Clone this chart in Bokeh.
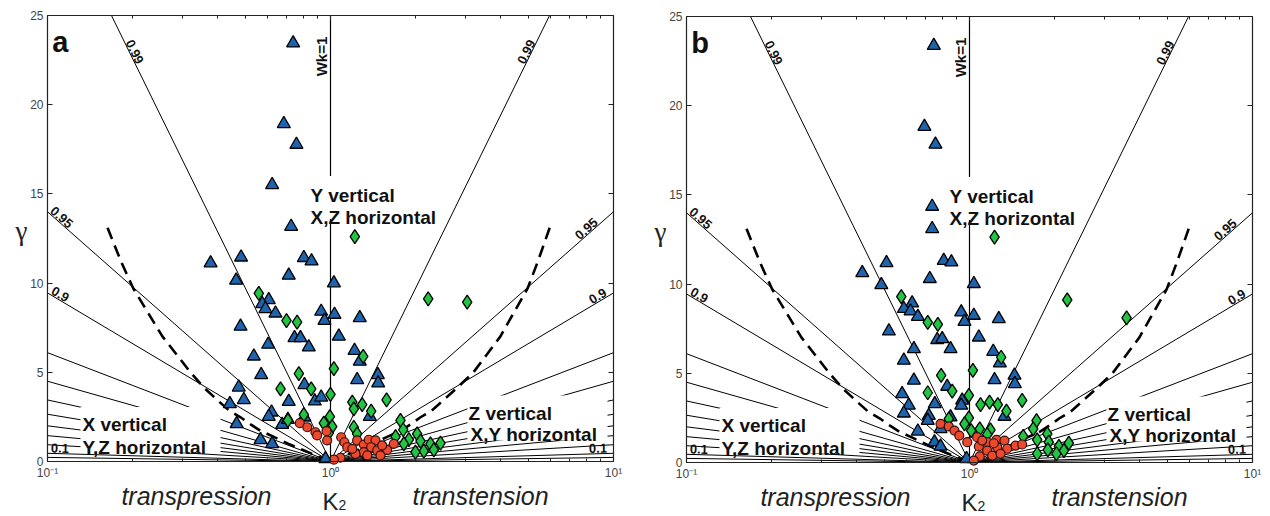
import math
from bokeh.plotting import figure
from bokeh.layouts import row
from bokeh.models import Range1d, FixedTicker, LogAxis, LinearAxis
from bokeh.core.properties import value
from bokeh.embed import file_html
from bokeh.resources import INLINE

# ---------------- data ----------------
# kinematic vorticity (Wk) guide lines: gamma where each line meets the frame edge (K2 = 0.1 / 10)
wk_values = [0.05, 0.1, 0.2, 0.3, 0.4, 0.5, 0.6, 0.7, 0.8, 0.9, 0.95, 0.99]
edge_gamma_left = [0.23, 0.46, 0.94, 1.45, 2.0, 2.65, 3.45, 4.5, 6.1, 9.45, 14.0, 32.3]
edge_gamma_right = [0.23, 0.46, 0.94, 1.45, 2.0, 2.65, 3.45, 4.5, 6.1, 9.45, 14.0, 32.3]

# dashed boundary curves
dash_left_k = [0.163, 0.182, 0.201, 0.255, 0.320, 0.359, 0.398, 0.438, 0.481, 0.522, 0.566, 0.631, 0.708, 0.807, 0.912, 1.0]
dash_left_g = [13.1, 11.2, 9.7, 7.0, 5.0, 4.1, 3.45, 2.86, 2.48, 2.08, 1.72, 1.38, 1.0, 0.62, 0.26, 0.0]
dash_right_k = [5.95, 5.4, 4.97, 3.98, 3.2, 2.79, 2.51, 2.28, 2.08, 1.92, 1.77, 1.585, 1.41, 1.24, 1.096, 1.0]
dash_right_g = [13.1, 11.2, 9.7, 7.0, 5.0, 4.1, 3.45, 2.86, 2.48, 2.08, 1.72, 1.38, 1.0, 0.62, 0.26, 0.0]

# panel a
a_tri_k = [0.738, 0.684, 0.758, 0.622, 0.726, 0.377, 0.483, 0.805, 0.857, 0.712,
           0.464, 1.028, 0.605, 0.574, 0.589, 0.639, 0.927, 1.033, 0.952, 1.269,
           0.481, 0.746, 0.783, 1.070, 0.602, 0.838, 1.216, 0.536, 1.269, 0.569,
           1.470, 1.474, 1.242, 0.809, 0.474, 0.494, 0.712, 0.880, 0.927, 0.441,
           1.377, 0.619, 0.605, 0.675, 0.707, 0.466, 0.566, 0.622, 0.809, 0.960]
a_tri_g = [23.45, 18.93, 17.77, 15.51, 13.17, 11.12, 11.45, 11.42, 11.23, 10.43,
           10.15, 10.0, 9.06, 8.84, 8.56, 8.31, 8.41, 8.24, 7.90, 8.05,
           7.57, 6.93, 6.93, 7.01, 6.56, 6.41, 6.22, 5.90, 5.61, 4.86,
           4.86, 4.39, 4.58, 4.30, 4.16, 3.46, 3.36, 3.38, 3.60, 3.23,
           2.52, 2.76, 2.52, 2.07, 2.35, 2.11, 1.21, 0.99, 2.48, 0.15]
a_dia_k = [1.219, 0.558, 0.699, 0.762, 1.305, 1.028, 0.773, 0.666, 0.855, 1.0,
           1.194, 1.294, 1.578, 1.209, 1.392, 0.995, 0.947, 1.014, 0.986, 0.707,
           0.805, 1.209, 1.242, 1.767, 1.807, 1.698, 1.892, 2.024, 2.080, 2.255,
           2.447, 2.318, 2.137, 1.996, 1.816, 2.214, 3.041]
a_dia_g = [12.61, 9.43, 7.90, 7.81, 5.89, 5.20, 4.92, 4.07, 4.07, 3.76,
           3.33, 3.19, 3.46, 2.95, 2.82, 2.52, 2.15, 1.96, 1.59, 2.30,
           2.63, 1.92, 1.55, 2.30, 1.78, 1.40, 1.22, 1.55, 1.14, 0.99,
           1.03, 0.65, 0.58, 0.52, 0.99, 9.12, 8.93]
a_cir_k = [0.779, 0.828, 0.885, 0.897, 0.968, 0.973, 1.091, 1.12, 1.146, 1.242,
           1.311, 1.365, 1.442, 1.392, 1.462, 1.585, 1.674, 1.311, 1.225, 1.085,
           1.028, 1.349, 1.523, 1.194, 1.502]
a_cir_g = [2.15, 1.92, 1.64, 1.46, 1.70, 1.18, 1.36, 1.08, 0.80, 1.18,
           0.95, 1.22, 1.18, 0.80, 0.62, 0.65, 0.99, 0.52, 0.43, 0.21,
           0.10, 0.34, 0.90, 0.71, 0.34]

# panel b
b_tri_k = [0.748, 0.693, 0.758, 0.738, 0.738, 0.418, 0.509, 0.811, 0.863, 0.724,
           0.488, 1.036, 0.627, 0.586, 0.619, 0.657, 0.935, 1.036, 0.960, 1.269,
           0.519, 0.769, 0.801, 1.079, 0.636, 0.857, 1.213, 0.586, 1.280, 0.636,
           1.442, 1.446, 1.226, 0.834, 0.578, 0.610, 0.754, 0.942, 0.935, 0.586,
           1.329, 0.718, 0.712, 0.790, 0.657, 0.752, 0.790, 0.976, 0.857]
b_tri_g = [23.37, 18.83, 17.83, 14.35, 13.10, 10.63, 11.19, 11.32, 11.23, 10.30,
           9.96, 10.02, 8.93, 8.62, 8.48, 8.18, 8.43, 8.24, 7.90, 8.05,
           7.36, 6.88, 6.93, 7.02, 6.37, 6.37, 6.22, 5.72, 5.57, 4.60,
           4.88, 4.41, 4.63, 4.26, 3.85, 3.20, 3.29, 3.48, 3.20, 2.76,
           2.58, 2.63, 2.35, 1.89, 1.75, 1.14, 0.90, 0.21, 2.54]
b_dia_k = [1.226, 0.574, 0.712, 0.773, 1.294, 1.028, 0.794, 0.712, 0.869, 0.995,
           1.094, 1.177, 1.259, 1.535, 1.351, 0.995, 0.960, 1.014, 1.087, 1.186,
           1.155, 0.845, 1.725, 1.679, 1.883, 1.735, 1.548, 1.906, 2.070, 2.244,
           2.155, 2.028, 1.891, 1.735, 2.215, 3.59]
b_dia_g = [12.63, 9.30, 7.86, 7.74, 5.90, 5.16, 4.88, 3.91, 4.00, 3.76,
           3.25, 3.38, 3.25, 3.48, 2.88, 2.50, 2.17, 1.79, 1.89, 1.83,
           1.57, 2.45, 2.35, 1.89, 1.61, 1.27, 1.46, 1.14, 0.90, 1.08,
           0.67, 0.49, 0.71, 0.49, 9.12, 8.11]
b_cir_k = [0.790, 0.845, 0.885, 0.920, 0.982, 1.064, 1.079, 1.155, 1.245, 1.329,
           1.253, 1.359, 1.455, 1.535, 1.155, 1.087, 1.036, 1.203, 1.288, 1.219, 1.109]
b_cir_g = [2.17, 2.02, 1.79, 1.51, 1.14, 1.42, 0.90, 1.14, 1.27, 1.23,
           0.86, 0.77, 0.95, 1.01, 0.67, 0.34, 0.11, 0.39, 0.49, 1.08, 1.23]

x_ticks = [0.1, 1, 10]
x_minor = [0.2, 0.3, 0.4, 0.5, 0.6, 0.7, 0.8, 0.9, 2, 3, 4, 5, 6, 7, 8, 9]
x_tick_labels = {0.1: "10\u207b\u00b9", 1: "10\u2070", 10: "10\u00b9"}
y_ticks = [0, 5, 10, 15, 20, 25]

SANS = "Liberation Sans"
BOX_W, BOX_H = 566, 446          # pixel size of the K2 0.1..10 / gamma 0..25 box
PX_PER_G = BOX_H / 25.0
PX_PER_DEC = BOX_W / 2.0
W, H = 635, 516


def style_axis(ax, labels=True):
    ax.axis_line_color = "#222222"
    ax.axis_line_width = 1.2
    ax.major_tick_in = 5
    ax.major_tick_out = 0
    ax.minor_tick_in = 3
    ax.minor_tick_out = 0
    ax.major_tick_line_color = "#222222"
    ax.minor_tick_line_color = "#222222"
    ax.major_label_text_font = SANS
    ax.major_label_text_font_size = "12px"
    ax.major_label_text_color = "#444444"
    ax.major_label_standoff = 4
    if not labels:
        ax.major_label_text_alpha = 0.0


def panel(letter, tri_k, tri_g, dia_k, dia_g, cir_k, cir_g, bl, bt):
    br = W - bl - BOX_W
    bb = H - bt - BOX_H
    x_lo = 10 ** (-1 - bl / PX_PER_DEC)
    x_hi = 10 ** (1 + br / PX_PER_DEC)
    y_lo = -bb / PX_PER_G
    y_hi = 25 + bt / PX_PER_G
    p = figure(x_axis_type="log", x_range=Range1d(x_lo, x_hi), y_range=Range1d(y_lo, y_hi),
               width=W, height=H, min_border=0,
               output_backend="svg", toolbar_location=None)
    p.grid.visible = False
    p.outline_line_color = None

    # bottom / left axes (fixed onto the gamma-K box)
    p.xaxis.ticker = FixedTicker(ticks=x_ticks, minor_ticks=x_minor)
    p.xaxis.major_label_overrides = x_tick_labels
    p.xaxis.fixed_location = 0
    p.xaxis.bounds = (0.1, 10)
    style_axis(p.xaxis[0])
    p.yaxis.ticker = FixedTicker(ticks=y_ticks)
    p.yaxis.fixed_location = 0.1
    p.yaxis.bounds = (0, 25)
    style_axis(p.yaxis[0])

    top = LogAxis(ticker=FixedTicker(ticks=x_ticks, minor_ticks=x_minor),
                  fixed_location=25, bounds=(0.1, 10))
    style_axis(top, labels=False)
    p.add_layout(top, "above")
    right = LinearAxis(ticker=FixedTicker(ticks=y_ticks), fixed_location=10, bounds=(0, 25))
    style_axis(right, labels=False)
    p.add_layout(right, "right")

    # Wk guide lines (stop at the top of the box)
    xs, ys = [], []
    for side, edges in ((-1, edge_gamma_left), (1, edge_gamma_right)):
        for g in edges:
            if g <= 25:
                xs.append([1.0, 10.0 ** side]); ys.append([0.0, g])
            else:
                xs.append([1.0, 10.0 ** (side * 25.0 / g)]); ys.append([0.0, 25.0])
    p.multi_line(xs, ys, line_color="black", line_width=1)
    p.line([1, 1], [0, 25], line_color="black", line_width=1.2)

    # dashed boundaries
    p.line(dash_left_k, dash_left_g, line_color="black", line_width=2.6, line_dash="12 7")
    p.line(dash_right_k, dash_right_g, line_color="black", line_width=2.6, line_dash="12 7")

    # white boxes behind the field labels
    def kx(px_from_left):
        return 10 ** (-1 + px_from_left / PX_PER_DEC)
    p.quad(left=[kx(33), kx(420), kx(261)], right=[kx(173), kx(560), kx(397)],
           bottom=[0.5, 1.18, 13.6], top=[3.05, 3.7, 16.0],
           fill_color="white", line_color=None)

    tfont = value(SANS)
    p.text(x=[0.850, 0.850, 0.1329, 0.1329, 3.074, 3.126],
           y=[14.91, 13.68, 2.07, 0.79, 2.71, 1.51],
           text=["Y vertical", "X,Z horizontal", "X vertical", "Y,Z horizontal",
                 "Z vertical", "X,Y horizontal"],
           text_font=tfont, text_font_style="bold", text_font_size="19px",
           text_color="#111111", text_align="left", text_baseline="alphabetic")

    # Wk labels
    lab_txt = ["0.99", "0.95", "0.9", "0.1", "0.99", "0.95", "0.9", "0.1"]
    lab_idx = [11, 10, 9, 1, 11, 10, 9, 1]
    lab_side = [-1, -1, -1, -1, 1, 1, 1, 1]
    lab_g = [22.8, 13.45, 9.1, 0.44, 22.8, 12.8, 9.0, 0.435]
    lx, ly, la = [], [], []
    for t, i, s, g in zip(lab_txt, lab_idx, lab_side, lab_g):
        ge = edge_gamma_left[i] if s < 0 else edge_gamma_right[i]
        lx.append(10 ** (s * g / ge))
        ly.append(g)
        ang = math.atan(ge * PX_PER_G / PX_PER_DEC)
        la.append(-ang if s < 0 else ang)
    p.text(x=lx, y=ly, text=lab_txt, angle=la, text_font=tfont, text_font_style="bold",
           text_font_size="13px", text_color="#111111", text_align="center",
           text_baseline="bottom", y_offset=-1)
    p.text(x=[1.0], y=[22.7], text=["Wk=1"], angle=[math.pi / 2], text_font=tfont,
           text_font_style="bold", text_font_size="15px", text_color="#111111",
           text_align="center", text_baseline="bottom", x_offset=-1)

    # data points
    p.scatter(tri_k, tri_g, marker="triangle", size=13, fill_color="#1f63ad",
              line_color="black", line_width=1.3)
    p.scatter(dia_k, dia_g, marker="diamond", size=14, fill_color="#22c443",
              line_color="black", line_width=1.3)
    p.scatter(cir_k, cir_g, marker="circle", size=9, fill_color="#ec4a2c",
              line_color="#331111", line_width=1.2)

    # panel letter
    p.text(x=[0.104], y=[23.5], text=[letter], text_font=tfont, text_font_style="bold",
           text_font_size="29px", text_color="#111111", text_baseline="alphabetic")
    # axis titles and texts below the axis
    p.text(x=[10 ** (-1 - 26 / PX_PER_DEC)], y=[12.9], text=["\u03b3"],
           text_font=value("Liberation Serif"), text_font_size="27px",
           text_color="#222222", text_align="center", text_baseline="middle")
    p.text(x=[0.336, 3.39], y=[-1.93, -1.93], text=["transpression", "transtension"],
           text_font=tfont, text_font_style="italic", text_font_size="25px",
           text_color="#222222", text_align="center", text_baseline="alphabetic")
    p.text(x=[1.0], y=[-2.22], text=["K"], text_font=tfont, text_font_size="24px",
           text_color="#222222", text_align="center", text_baseline="alphabetic")
    p.text(x=[1.0], y=[-2.45], x_offset=8, text=["2"], text_font=tfont,
           text_font_size="14px", text_color="#222222", text_align="left",
           text_baseline="alphabetic")
    return p


pa = panel("a", a_tri_k, a_tri_g, a_dia_k, a_dia_g, a_cir_k, a_cir_g, 47, 15)
pb = panel("b", b_tri_k, b_tri_g, b_dia_k, b_dia_g, b_cir_k, b_cir_g, 51, 16)

layout = row(pa, pb)
open("out.html", "w").write(file_html(layout, INLINE))
